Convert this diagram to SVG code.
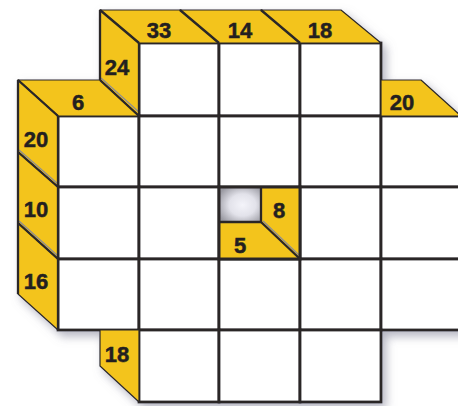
<svg xmlns="http://www.w3.org/2000/svg" width="458" height="406" viewBox="0 0 458 406">
<defs>
<filter id="sh" x="-10%" y="-10%" width="130%" height="130%">
<feGaussianBlur in="SourceAlpha" stdDeviation="5"/>
<feOffset dx="4" dy="5" result="b"/>
<feFlood flood-color="#7a7a90" flood-opacity="0.55"/>
<feComposite in2="b" operator="in"/>
<feMerge><feMergeNode/><feMergeNode in="SourceGraphic"/></feMerge>
</filter>
<radialGradient id="hole" cx="0.55" cy="0.5" r="0.65">
<stop offset="0" stop-color="#f4f4fa"/>
<stop offset="0.5" stop-color="#e2e2ea"/>
<stop offset="1" stop-color="#9a9aa2"/>
</radialGradient>
<style>
.cell{fill:#fff;stroke:#2a2728;stroke-width:2.8}
.tab{fill:#f3c41f;stroke:#2a2728;stroke-width:1.2;stroke-linejoin:round}
.d{stroke:#2a2728;stroke-width:2.3;fill:none}
.dg{stroke:#8c8c94;stroke-width:1.2;fill:none}
.n{font-family:"Liberation Sans",Arial,sans-serif;font-weight:bold;font-size:22px;fill:#231f20;stroke:#231f20;stroke-width:0.5;text-anchor:middle}
</style>
</defs>
<g filter="url(#sh)">
<g id="cells">
<g id="r0"><rect class="cell" x="139" y="43" width="80" height="73"/><rect class="cell" x="219" y="43" width="81" height="73"/><rect class="cell" x="300" y="43" width="81" height="73"/></g>
<g id="r1"><rect class="cell" x="58" y="116" width="81" height="71"/><rect class="cell" x="139" y="116" width="80" height="71"/><rect class="cell" x="219" y="116" width="81" height="71"/><rect class="cell" x="300" y="116" width="81" height="71"/><rect class="cell" x="381" y="116" width="90" height="71"/></g>
<g id="r2"><rect class="cell" x="58" y="187" width="81" height="72"/><rect class="cell" x="139" y="187" width="80" height="72"/><rect class="cell" x="300" y="187" width="81" height="72"/><rect class="cell" x="381" y="187" width="90" height="72"/></g>
<g id="r3"><rect class="cell" x="58" y="259" width="81" height="71"/><rect class="cell" x="139" y="259" width="80" height="71"/><rect class="cell" x="219" y="259" width="81" height="71"/><rect class="cell" x="300" y="259" width="81" height="71"/><rect class="cell" x="381" y="259" width="90" height="71"/></g>
<g id="r4"><rect class="cell" x="139" y="330" width="80" height="72"/><rect class="cell" x="219" y="330" width="81" height="72"/><rect class="cell" x="300" y="330" width="81" height="72"/></g>
</g>
<g id="clue-33"><polygon class="tab" points="100,10 180,10 219,43 139,43"/></g>
<g id="clue-14"><polygon class="tab" points="180,10 261,10 300,43 219,43"/></g>
<g id="clue-18top"><polygon class="tab" points="261,10 341,10 381,43 300,43"/></g>
<g id="clue-24"><polygon class="tab" points="100,10 139,43 139,116 100,80"/></g>
<g id="clue-6"><polygon class="tab" points="18,80 100,80 139,116 58,116"/></g>
<g id="clue-20left"><polygon class="tab" points="18,80 58,116 58,187 18,152"/></g>
<g id="clue-10"><polygon class="tab" points="18,152 58,187 58,259 18,223"/></g>
<g id="clue-16"><polygon class="tab" points="18,223 58,259 58,330 18,294"/></g>
<g id="clue-18bottom"><polygon class="tab" points="100,330 139,330 139,402 100,366"/></g>
<g id="clue-20right"><polygon class="tab" points="381,80 421,80 461,116 381,116"/></g>
<g id="block">
<rect x="219" y="187" width="81" height="72" fill="#f3c41f"/>
<rect x="220" y="188" width="41" height="34" fill="url(#hole)"/>
<polyline class="d" points="220,222 261,222 261,188"/>
<line class="d" x1="261" y1="222" x2="299" y2="258"/>
<line class="dg" x1="263" y1="221" x2="300" y2="256"/>
<rect x="219" y="187" width="81" height="72" fill="none" stroke="#2a2728" stroke-width="3"/>
</g>
</g>
<g id="connectors">
<line class="d" x1="100" y1="10" x2="139" y2="43"/>
<line class="d" x1="180" y1="10" x2="219" y2="43"/>
<line class="d" x1="261" y1="10" x2="300" y2="43"/>
<line class="d" x1="18" y1="80" x2="58" y2="116"/>
<line class="d" x1="100" y1="80" x2="139" y2="116"/>
<line class="dg" x1="101" y1="78" x2="140" y2="113"/>
<line class="d" x1="18" y1="152" x2="58" y2="187"/>
<line class="dg" x1="19" y1="150" x2="58" y2="184"/>
<line class="d" x1="18" y1="223" x2="58" y2="259"/>
<line class="dg" x1="19" y1="221" x2="58" y2="256"/>
<line class="d" x1="100" y1="10" x2="100" y2="80"/>
<line class="d" x1="18" y1="80" x2="18" y2="294"/>
<line class="d" x1="139" y1="43" x2="139" y2="116"/>
<line class="d" x1="58" y1="116" x2="58" y2="330"/>
</g>
<g id="labels">
<text class="n" x="159" y="38">33</text>
<text class="n" x="240" y="38">14</text>
<text class="n" x="320" y="38">18</text>
<text class="n" x="117" y="75">24</text>
<text class="n" x="78" y="110">6</text>
<text class="n" x="36" y="147">20</text>
<text class="n" x="36" y="217">10</text>
<text class="n" x="36" y="289">16</text>
<text class="n" x="117" y="362">18</text>
<text class="n" x="402" y="110">20</text>
<text class="n" x="279" y="218">8</text>
<text class="n" x="240" y="253">5</text>
</g>
</svg>
